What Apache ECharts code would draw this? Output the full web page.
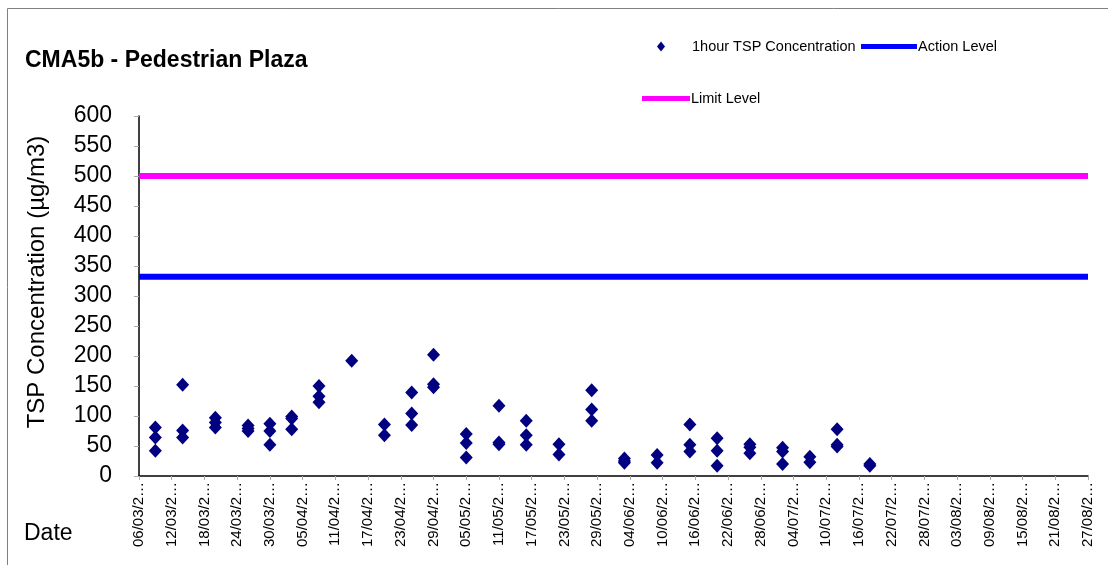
<!doctype html>
<html>
<head>
  <meta charset="UTF-8">
  <title>CMA5b - Pedestrian Plaza</title>
  <script src="https://cdn.jsdelivr.net/npm/echarts@6/dist/echarts.min.js"></script>
  <style>
    * { margin: 0; padding: 0; }
    html, body { background: #fff; }
    #chart { width: 1108px; height: 565px; }
  </style>
</head>
<body>
<div id="chart"></div>
<script>
  // x axis ticks every 6 days starting 06/03
  const tickLabels = ['06/03/2…', '12/03/2…', '18/03/2…', '24/03/2…', '30/03/2…', '05/04/2…',
    '11/04/2…', '17/04/2…', '23/04/2…', '29/04/2…', '05/05/2…', '11/05/2…', '17/05/2…',
    '23/05/2…', '29/05/2…', '04/06/2…', '10/06/2…', '16/06/2…', '22/06/2…', '28/06/2…',
    '04/07/2…', '10/07/2…', '16/07/2…', '22/07/2…', '28/07/2…', '03/08/2…', '09/08/2…',
    '15/08/2…', '21/08/2…', '27/08/2…']

  // days after 06/03 for each monitoring day, and the 1-hour readings taken that day
  const sampleDays = [3, 8, 14, 20, 24, 28, 33, 39, 45, 50, 54, 60, 66, 71, 77, 83, 89, 95,
    101, 106, 112, 118, 123, 128, 134]
  const sampleValues = [
    [81, 64, 42], [152, 76, 64], [97, 89, 81], [84, 79, 75], [87, 75, 52], [99, 96, 78],
    [150, 133, 123], [192], [86, 68], [139, 104, 85], [202, 153, 148], [70, 55, 31],
    [117, 56, 53], [92, 68, 52], [53, 36], [143, 111, 92], [29, 25, 22], [35, 22],
    [86, 52, 41], [63, 42, 17], [53, 48, 38], [47, 41, 20], [32, 23], [78, 52, 49], [20, 17]
  ]

  const actionLevel = 332
  const limitLevel = 500
  const levelSpan = [0, 174]

  const tspPoints = []
  sampleDays.forEach((d, i) => {
    sampleValues[i].forEach(v => tspPoints.push([d, v]))
  })

  const font = 'Arial, "Liberation Sans", sans-serif'
  const chart = echarts.init(document.getElementById('chart'))

  const option = {
    animation: false,
    backgroundColor: '#fff',
    title: {
      text: 'CMA5b - Pedestrian Plaza',
      left: 20,
      top: 44,
      textStyle: { fontFamily: font, fontSize: 23, fontWeight: 'bold', color: '#000' }
    },
    graphic: [
      {
        type: 'rect',
        shape: { x: 7.5, y: 8.5, width: 1200, height: 700 },
        style: { fill: 'none', stroke: '#808080', lineWidth: 1 },
        silent: true
      },
      {
        type: 'text',
        left: 24,
        top: 522,
        style: { text: 'Date', font: '23px ' + font, fill: '#000' }
      },
      {
        type: 'text',
        x: 37,
        y: 282,
        rotation: Math.PI / 2,
        style: {
          text: 'TSP Concentration (µg/m3)',
          font: '24px ' + font,
          fill: '#000',
          align: 'center',
          verticalAlign: 'middle'
        }
      }
    ],
    legend: [
      {
        left: 652,
        top: 34,
        icon: 'diamond',
        itemWidth: 8,
        itemHeight: 10,
        data: ['1hour TSP Concentration'],
        textStyle: { fontFamily: font, fontSize: 14.5, color: '#000', padding: [0, 0, 0, 22] }
      },
      {
        left: 856,
        top: 34,
        icon: 'rect',
        itemWidth: 56,
        itemHeight: 5,
        data: ['Action Level'],
        textStyle: { fontFamily: font, fontSize: 14.5, color: '#000', padding: [0, 0, 0, -4] }
      },
      {
        left: 637,
        top: 86,
        icon: 'rect',
        itemWidth: 48,
        itemHeight: 5,
        data: ['Limit Level'],
        textStyle: { fontFamily: font, fontSize: 14.5, color: '#000', padding: [0, 0, 0, -4] }
      }
    ],
    grid: { left: 139, right: 20, top: 116, bottom: 89 },
    xAxis: {
      type: 'value',
      min: 0,
      max: 174,
      interval: 6,
      splitLine: { show: false },
      axisLine: { lineStyle: { color: '#000', width: 1.5 } },
      axisTick: { show: true, length: 4, lineStyle: { color: '#aaa' } },
      axisLabel: {
        rotate: 90,
        margin: 6,
        fontFamily: font,
        fontSize: 15,
        color: '#000',
        showMinLabel: true,
        showMaxLabel: true,
        formatter: v => tickLabels[Math.round(v / 6)]
      }
    },
    yAxis: {
      type: 'value',
      min: 0,
      max: 600,
      interval: 50,
      splitLine: { show: false },
      axisLine: { show: true, lineStyle: { color: '#000', width: 1.5 } },
      axisTick: { show: true, length: 5, lineStyle: { color: '#aaa' } },
      axisLabel: { fontFamily: font, fontSize: 23, color: '#000', margin: 27 }
    },
    series: [
      {
        name: '1hour TSP Concentration',
        type: 'scatter',
        symbol: 'diamond',
        symbolSize: [13, 14],
        itemStyle: { color: '#000080', opacity: 1 },
        data: tspPoints,
        z: 3
      },
      {
        name: 'Action Level',
        type: 'line',
        symbol: 'none',
        lineStyle: { color: '#0000FF', width: 6 },
        itemStyle: { color: '#0000FF' },
        data: levelSpan.map(d => [d, actionLevel])
      },
      {
        name: 'Limit Level',
        type: 'line',
        symbol: 'none',
        lineStyle: { color: '#FF00FF', width: 6 },
        itemStyle: { color: '#FF00FF' },
        data: levelSpan.map(d => [d, limitLevel])
      }
    ]
  }
  chart.setOption(option)
</script>
</body>
</html>
